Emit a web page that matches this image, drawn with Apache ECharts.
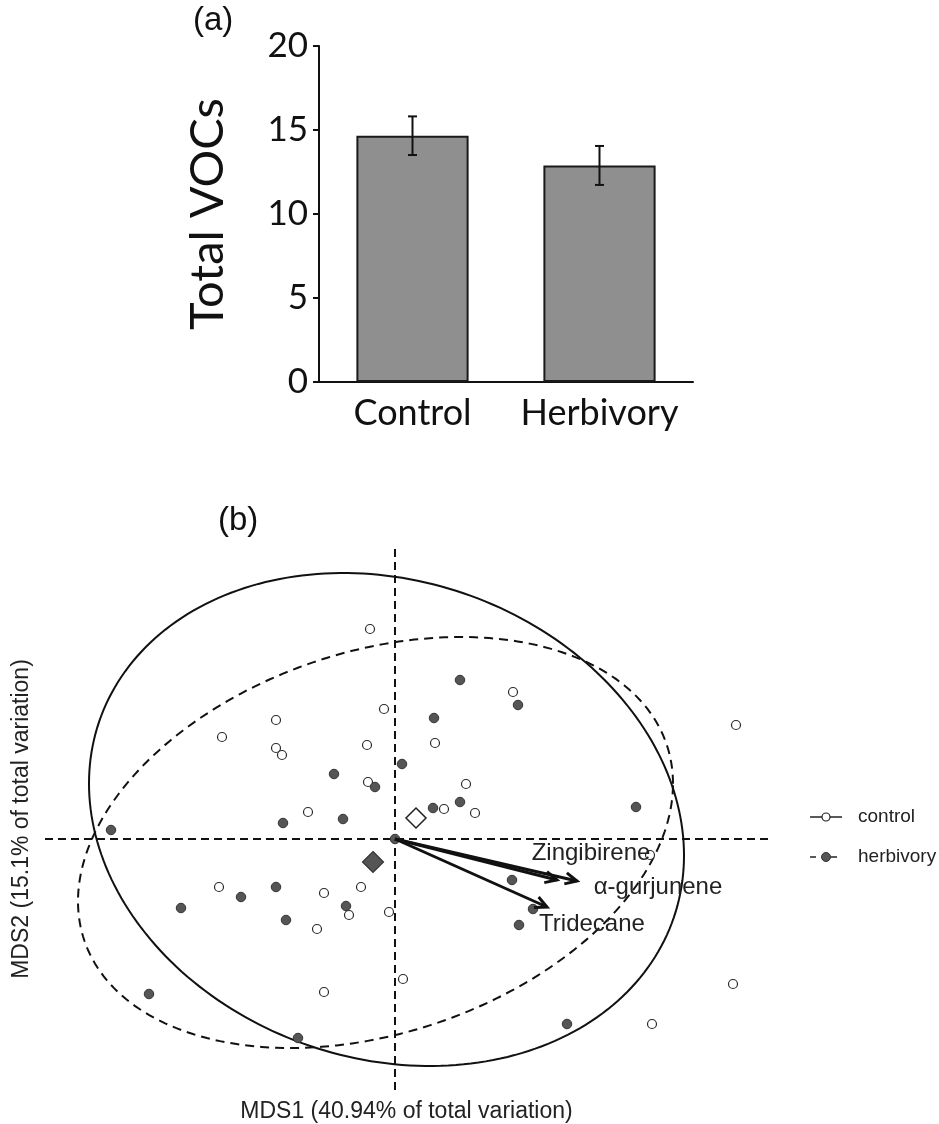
<!DOCTYPE html>
<html><head><meta charset="utf-8">
<script src="https://cdn.jsdelivr.net/npm/echarts@6/dist/echarts.min.js"></script>
<style>html,body{margin:0;padding:0;background:#fff}#chart{width:939px;height:1124px}</style>
</head><body><div id="chart"></div>
<script>
// ---------- Panel (a) data ----------
const barCategories = ['Control', 'Herbivory'];
const barMeans = [14.66, 12.89];
const barErrors = [1.15, 1.16];
const vocTicks = [0, 5, 10, 15, 20];

// ---------- Panel (b) data (MDS units) ----------
const groupNames = ['control', 'herbivory'];
const controlPoints = [
  [-0.25, 2.10], [-0.11, 1.30], [-1.19, 1.19], [-1.73, 1.02], [0.40, 0.96],
  [-1.19, 0.91], [-1.13, 0.84], [-0.28, 0.94], [-0.27, 0.57], [-0.87, 0.27],
  [1.18, 1.47], [3.41, 1.14], [0.71, 0.55], [0.49, 0.30], [0.80, 0.26],
  [2.55, -0.16], [-1.76, -0.48], [-0.71, -0.54], [-0.34, -0.48], [-0.46, -0.76],
  [-0.06, -0.73], [-0.78, -0.90], [-0.71, -1.53], [0.08, -1.40], [3.38, -1.45],
  [2.57, -1.85]
];
const herbivoryPoints = [
  [0.39, 1.21], [0.07, 0.75], [-0.61, 0.65], [-0.20, 0.52], [-1.12, 0.16],
  [-0.52, 0.20], [0.38, 0.31], [-2.84, 0.09], [0.65, 1.59], [1.23, 1.34],
  [0.65, 0.37], [2.41, 0.32], [1.17, -0.41], [1.38, -0.70], [1.24, -0.86],
  [-1.54, -0.58], [-1.19, -0.48], [-2.14, -0.69], [-1.09, -0.81], [-0.49, -0.67],
  [-2.46, -1.55], [-0.97, -1.99], [1.72, -1.85], [0.00, 0.00]
];
const controlCentroid = [0.21, 0.21];
const herbivoryCentroid = [-0.22, -0.23];
// [centreX, centreY, spreadX, spreadY, covarianceXY]
const controlEllipse = [-0.085, 0.195, 2.975, 2.465, -1.07];
const herbivoryEllipse = [-0.195, -0.035, 2.975, 2.055, 1.75];
const vectorNames = ['Zingibirene', 'α-gurjunene', 'Tridecane'];
const vectorTips = [[1.62, -0.41], [1.82, -0.42], [1.52, -0.68]];
const vectorLabelPos = [[1.96, -0.14], [2.63, -0.48], [1.97, -0.85]];

const mdsXRange = [-3.5, 3.73];
const mdsYRange = [-2.51, 2.91];

const chart = echarts.init(document.getElementById('chart'), null, {renderer: 'canvas', width: 939, height: 1124});

const fa = 'Lato';
const fb = 'Liberation Sans';

function ellipseRenderer(dash) {
  return function (params, api) {
    const cx = api.value(0), cy = api.value(1), sx = api.value(2), sy = api.value(3), cxy = api.value(4);
    const b = cxy / sx;
    const c = Math.sqrt(sy * sy - b * b);
    const pts = [];
    for (let k = 0; k <= 240; k++) {
      const t = 2 * Math.PI * k / 240;
      pts.push(api.coord([cx + sx * Math.cos(t), cy + b * Math.cos(t) + c * Math.sin(t)]));
    }
    return {type: 'polyline', shape: {points: pts},
      style: {stroke: '#111', lineWidth: 2, fill: null, lineDash: dash}};
  };
}

const option = {
  animation: false,
  backgroundColor: '#fff',
  title: [
    {text: '(a)', left: 193, top: 4, padding: 0, textStyle: {fontFamily: fb, fontSize: 33, fontWeight: 'normal', color: '#111'}},
    {text: '(b)', left: 218, top: 504, padding: 0, textStyle: {fontFamily: fb, fontSize: 33, fontWeight: 'normal', color: '#111'}}
  ],
  grid: [
    {left: 319, top: 46, width: 374, height: 336},
    {left: 45, top: 548, width: 723, height: 542}
  ],
  xAxis: [
    {gridIndex: 0, type: 'category', data: barCategories,
      axisLine: {lineStyle: {color: '#111', width: 2}}, axisTick: {show: false},
      axisLabel: {fontFamily: fa, fontSize: 36, color: '#111', margin: 13, interval: 0, hideOverlap: false}},
    {gridIndex: 1, type: 'value', min: mdsXRange[0], max: mdsXRange[1],
      axisLine: {show: false, onZero: false}, axisTick: {show: false}, axisLabel: {show: false}, splitLine: {show: false},
      name: 'MDS1 (40.94% of total variation)', nameLocation: 'middle', nameGap: 10,
      nameTextStyle: {fontFamily: fb, fontSize: 23, color: '#222'}}
  ],
  yAxis: [
    {gridIndex: 0, type: 'value', min: vocTicks[0], max: vocTicks[vocTicks.length - 1], interval: vocTicks[1] - vocTicks[0],
      axisLine: {show: true, lineStyle: {color: '#111', width: 2}},
      axisTick: {show: true, length: 6, lineStyle: {color: '#111', width: 2}},
      axisLabel: {fontFamily: fa, fontSize: 35, color: '#111', margin: 11},
      splitLine: {show: false},
      name: 'Total VOCs', nameLocation: 'middle', nameGap: 88,
      nameTextStyle: {fontFamily: fa, fontSize: 47, color: '#111'}},
    {gridIndex: 1, type: 'value', min: mdsYRange[0], max: mdsYRange[1],
      axisLine: {show: false, onZero: false}, axisTick: {show: false}, axisLabel: {show: false}, splitLine: {show: false},
      name: 'MDS2 (15.1% of total variation)', nameLocation: 'middle', nameGap: 12,
      nameTextStyle: {fontFamily: fb, fontSize: 23, color: '#222'}}
  ],
  series: [
    {type: 'bar', xAxisIndex: 0, yAxisIndex: 0, data: barMeans, barWidth: '60%',
      itemStyle: {color: '#8f8f8f', borderColor: '#1a1a1a', borderWidth: 2}},
    {type: 'custom', xAxisIndex: 0, yAxisIndex: 0, z: 5,
      data: barMeans.map((m, i) => [i, m, barErrors[i]]),
      renderItem: function (params, api) {
        const i = api.value(0), m = api.value(1), e = api.value(2);
        const top = api.coord([i, m + e]);
        const bot = api.coord([i, m - e]);
        const h = 4.5;
        const st = {stroke: '#111', lineWidth: 2};
        return {type: 'group', children: [
          {type: 'line', shape: {x1: top[0], y1: top[1], x2: bot[0], y2: bot[1]}, style: st},
          {type: 'line', shape: {x1: top[0] - h, y1: top[1], x2: top[0] + h, y2: top[1]}, style: st},
          {type: 'line', shape: {x1: bot[0] - h, y1: bot[1], x2: bot[0] + h, y2: bot[1]}, style: st}
        ]};
      }},
    {type: 'line', xAxisIndex: 1, yAxisIndex: 1, silent: true, symbol: 'none', z: 1,
      data: [[0, mdsYRange[0]], [0, mdsYRange[1]]],
      lineStyle: {color: '#111', width: 2, type: [8, 5]}},
    {type: 'line', xAxisIndex: 1, yAxisIndex: 1, silent: true, symbol: 'none', z: 1,
      data: [[mdsXRange[0], 0], [mdsXRange[1], 0]],
      lineStyle: {color: '#111', width: 2, type: [8, 5]}},
    {type: 'custom', name: groupNames[0] + ' ellipse', xAxisIndex: 1, yAxisIndex: 1, z: 2, silent: true,
      data: [controlEllipse], renderItem: ellipseRenderer(null)},
    {type: 'custom', name: groupNames[1] + ' ellipse', xAxisIndex: 1, yAxisIndex: 1, z: 2, silent: true,
      data: [herbivoryEllipse], renderItem: ellipseRenderer([9, 6])},
    {type: 'scatter', name: groupNames[0], xAxisIndex: 1, yAxisIndex: 1, z: 3, data: controlPoints,
      symbol: 'circle', symbolSize: 9,
      itemStyle: {color: '#fff', borderColor: '#2a2a2a', borderWidth: 1.2, opacity: 1}},
    {type: 'scatter', name: groupNames[1], xAxisIndex: 1, yAxisIndex: 1, z: 3, data: herbivoryPoints,
      symbol: 'circle', symbolSize: 9.5,
      itemStyle: {color: '#555', borderColor: '#333', borderWidth: 1, opacity: 1}},
    {type: 'scatter', name: groupNames[0] + ' centroid', xAxisIndex: 1, yAxisIndex: 1, z: 3, data: [controlCentroid],
      symbol: 'diamond', symbolSize: 20,
      itemStyle: {color: '#fff', borderColor: '#222', borderWidth: 1.5, opacity: 1}},
    {type: 'scatter', name: groupNames[1] + ' centroid', xAxisIndex: 1, yAxisIndex: 1, z: 3, data: [herbivoryCentroid],
      symbol: 'diamond', symbolSize: 21,
      itemStyle: {color: '#555', borderColor: '#333', borderWidth: 1.2, opacity: 1}},
    {type: 'custom', xAxisIndex: 1, yAxisIndex: 1, z: 6, silent: true,
      data: vectorTips.map((t, i) => [t[0], t[1], vectorLabelPos[i][0], vectorLabelPos[i][1]]),
      renderItem: function (params, api) {
        const i = params.dataIndex;
        const p0 = api.coord([0, 0]);
        const p1 = api.coord([api.value(0), api.value(1)]);
        const lp = api.coord([api.value(2), api.value(3)]);
        const ang = Math.atan2(p1[1] - p0[1], p1[0] - p0[0]);
        const L = 13, a = 0.45;
        const w1 = [p1[0] - L * Math.cos(ang - a), p1[1] - L * Math.sin(ang - a)];
        const w2 = [p1[0] - L * Math.cos(ang + a), p1[1] - L * Math.sin(ang + a)];
        return {type: 'group', children: [
          {type: 'line', shape: {x1: p0[0], y1: p0[1], x2: p1[0], y2: p1[1]}, style: {stroke: '#111', lineWidth: 3}},
          {type: 'polyline', shape: {points: [w1, p1, w2]}, style: {stroke: '#111', lineWidth: 3, fill: null}},
          {type: 'text', x: lp[0], y: lp[1], style: {text: vectorNames[i], fontSize: 24, fontFamily: fb, fill: '#222',
            align: 'center', verticalAlign: 'middle', textAlign: 'center', textVerticalAlign: 'middle'}}
        ]};
      }}
  ],
  graphic: [
    {type: 'line', shape: {x1: 810, y1: 817, x2: 842, y2: 817}, style: {stroke: '#222', lineWidth: 1.5}},
    {type: 'circle', shape: {cx: 826, cy: 817, r: 4}, style: {fill: '#fff', stroke: '#222', lineWidth: 1.2}},
    {type: 'text', x: 858, y: 817, style: {text: groupNames[0], fontSize: 19, fontFamily: fb, fill: '#222', verticalAlign: 'middle', textVerticalAlign: 'middle'}},
    {type: 'line', shape: {x1: 810, y1: 857, x2: 816, y2: 857}, style: {stroke: '#222', lineWidth: 1.5}},
    {type: 'line', shape: {x1: 831, y1: 857, x2: 837, y2: 857}, style: {stroke: '#222', lineWidth: 1.5}},
    {type: 'circle', shape: {cx: 826, cy: 857, r: 4.5}, style: {fill: '#555', stroke: '#333', lineWidth: 1}},
    {type: 'text', x: 858, y: 857, style: {text: groupNames[1], fontSize: 19, fontFamily: fb, fill: '#222', verticalAlign: 'middle', textVerticalAlign: 'middle'}}
  ]
};
chart.setOption(option);
</script></body></html>
